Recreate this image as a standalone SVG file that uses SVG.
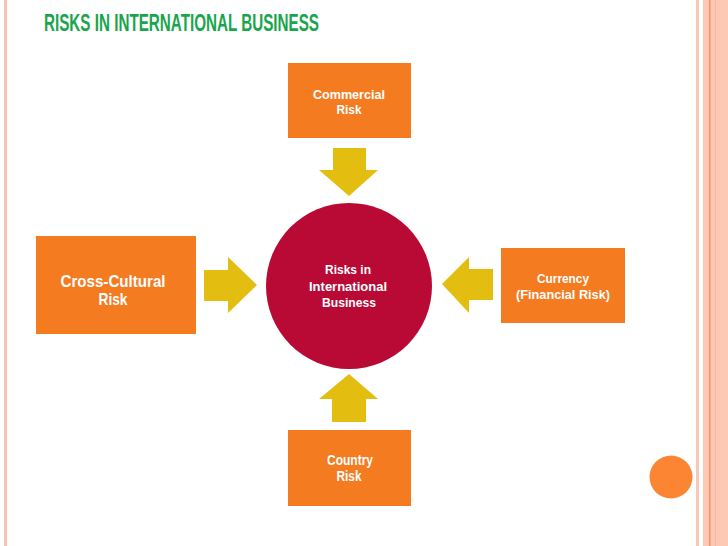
<svg xmlns="http://www.w3.org/2000/svg" width="728" height="546" viewBox="0 0 728 546">
<style>
.box{fill:#f47b20}
.arrow{fill:#e3bd10}
.lbl{font-family:"Liberation Sans",Arial,sans-serif;font-weight:bold;fill:#ffffff;text-anchor:middle}
.title{font-family:"Liberation Sans",Arial,sans-serif;font-weight:bold;fill:#19a54c;font-size:23px}
</style>
<rect width="728" height="546" fill="#ffffff"/>
<g id="border">
<rect x="4" y="0" width="3" height="546" fill="#f8c3b2"/>
<rect x="696" y="0" width="3" height="546" fill="#f8c8b8"/>
<rect x="703" y="0" width="25" height="546" fill="#fdc9b4"/>
<rect x="709" y="0" width="1.5" height="546" fill="#ee9466"/>
<rect x="715" y="0" width="1" height="546" fill="#f7b89e"/>
</g>
<text class="title" x="44" y="31" textLength="275" lengthAdjust="spacingAndGlyphs">RISKS IN INTERNATIONAL BUSINESS</text>
<g id="connectors">
<polygon class="arrow" points="333,148 366,148 366,170 378,170 349,196 319,170 333,170"/>
<polygon class="arrow" points="204,270 228,270 228,257 257,285 228,313 228,301 204,301"/>
<polygon class="arrow" points="493,269 469,269 469,257 442,284 469,313 469,300 493,300"/>
<polygon class="arrow" points="332,422 366,422 366,399 378,399 349,374 319,399 332,399"/>
</g>
<g id="center">
<circle cx="349" cy="286" r="83" fill="#b90a35"/>
<text class="lbl" font-size="13" x="348" y="274" textLength="46" lengthAdjust="spacingAndGlyphs">Risks in</text>
<text class="lbl" font-size="13" x="348" y="291" textLength="78" lengthAdjust="spacingAndGlyphs">International</text>
<text class="lbl" font-size="13" x="349" y="307" textLength="54" lengthAdjust="spacingAndGlyphs">Business</text>
</g>
<g id="commercial">
<rect class="box" x="288" y="63" width="123" height="75"/>
<text class="lbl" font-size="13.5" x="349" y="99" textLength="72" lengthAdjust="spacingAndGlyphs">Commercial</text>
<text class="lbl" font-size="13.5" x="349" y="114" textLength="25" lengthAdjust="spacingAndGlyphs">Risk</text>
</g>
<g id="crosscultural">
<rect class="box" x="36" y="236" width="160" height="98"/>
<text class="lbl" font-size="17" x="113" y="287" textLength="105" lengthAdjust="spacingAndGlyphs">Cross-Cultural</text>
<text class="lbl" font-size="17" x="113" y="305" textLength="29" lengthAdjust="spacingAndGlyphs">Risk</text>
</g>
<g id="currency">
<rect class="box" x="501" y="248" width="124" height="75"/>
<text class="lbl" font-size="13" x="563" y="283" textLength="52" lengthAdjust="spacingAndGlyphs">Currency</text>
<text class="lbl" font-size="13" x="563" y="299" textLength="94" lengthAdjust="spacingAndGlyphs">(Financial Risk)</text>
</g>
<g id="country">
<rect class="box" x="288" y="430" width="123" height="76"/>
<text class="lbl" font-size="14" x="350" y="465" textLength="46" lengthAdjust="spacingAndGlyphs">Country</text>
<text class="lbl" font-size="14" x="349" y="481" textLength="25" lengthAdjust="spacingAndGlyphs">Risk</text>
</g>
<circle id="dot" cx="671" cy="477" r="21.5" fill="#fb8533"/>
</svg>
